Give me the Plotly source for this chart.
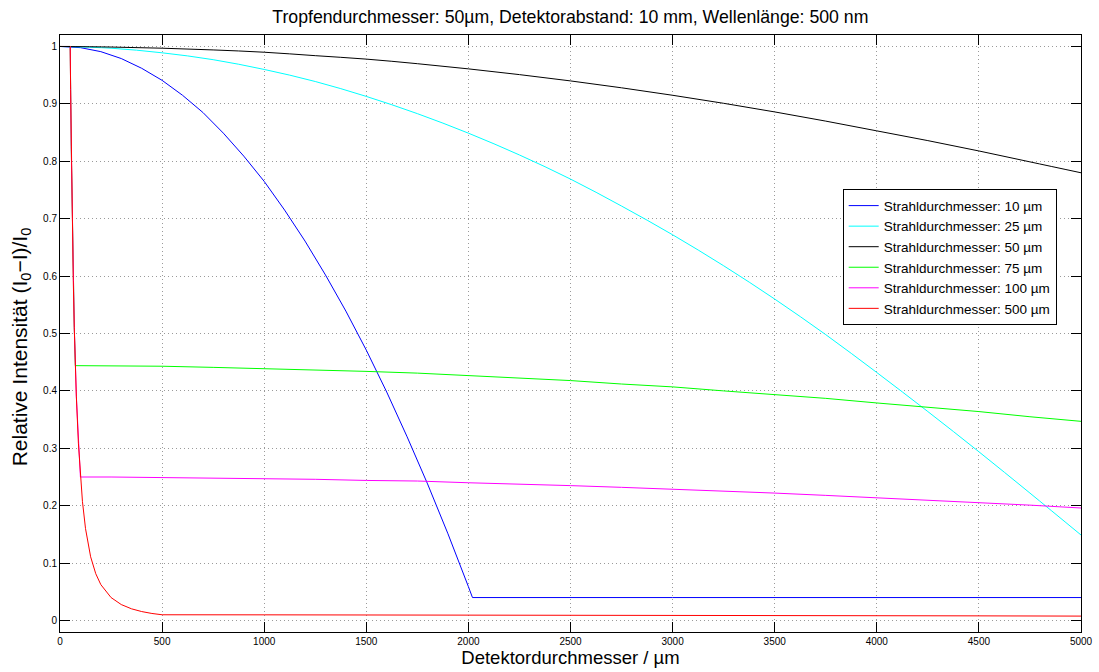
import plotly.graph_objects as go

# ---------------- data ----------------
x_blue = [0, 100, 200, 300, 400, 500, 600, 700, 800, 900, 1000, 1100, 1200, 1300,
          1400, 1500, 1600, 1700, 1800, 1900, 2000, 2020, 3000, 4000, 5000]
y_blue = [1.000, 0.998, 0.991, 0.979, 0.962, 0.941, 0.915, 0.885, 0.849, 0.809,
          0.765, 0.715, 0.661, 0.602, 0.539, 0.471, 0.398, 0.320, 0.238, 0.151,
          0.059, 0.040, 0.040, 0.040, 0.040]

x_grid = [250, 500, 750, 1000, 1250, 1500, 1750, 2000, 2250, 2500, 2750, 3000,
          3250, 3500, 3750, 4000, 4250, 4500, 4750, 5000]

x_cyan = [0] + x_grid
y_cyan = [1.000, 0.997, 0.989, 0.977, 0.960, 0.939, 0.913, 0.883, 0.849, 0.811,
          0.769, 0.722, 0.672, 0.618, 0.560, 0.498, 0.432, 0.364, 0.294, 0.222, 0.149]

x_black = [0] + x_grid
y_black = [1.000, 0.999, 0.997, 0.994, 0.990, 0.984, 0.978, 0.970, 0.961, 0.951,
           0.940, 0.928, 0.915, 0.901, 0.886, 0.870, 0.853, 0.836, 0.818, 0.799, 0.780]

x_green = [0, 50, 55, 60, 65, 70, 75] + x_grid
y_green = [1.000, 1.000, 0.826, 0.694, 0.592, 0.510, 0.444,
           0.444, 0.443, 0.441, 0.439, 0.437, 0.434, 0.431, 0.427, 0.422, 0.418,
           0.412, 0.407, 0.400, 0.394, 0.387, 0.379, 0.372, 0.364, 0.355, 0.347]

x_magenta = [0, 50, 55, 60, 65, 70, 80, 90, 100] + x_grid
y_magenta = [1.000, 1.000, 0.826, 0.694, 0.592, 0.510, 0.391, 0.309, 0.250,
             0.250, 0.249, 0.249, 0.247, 0.246, 0.244, 0.243, 0.240, 0.238, 0.235,
             0.232, 0.229, 0.226, 0.222, 0.218, 0.214, 0.210, 0.205, 0.201, 0.196]

x_red = [0, 50, 52, 55, 60, 65, 70, 75, 80, 90, 100, 110, 125, 150, 175, 200, 250,
         300, 350, 400, 450, 500, 1000, 1500, 2000, 2500, 3000, 3500, 4000, 4500, 5000]
y_red = [1.000, 1.000, 0.925, 0.826, 0.694, 0.592, 0.510, 0.444, 0.391, 0.309,
         0.250, 0.207, 0.160, 0.111, 0.0816, 0.0625, 0.0400, 0.0278, 0.0204, 0.0156,
         0.0123, 0.0100, 0.0099, 0.0098, 0.0096, 0.0094, 0.0091, 0.0088, 0.0085,
         0.0081, 0.0077]

series = [
    ("Strahldurchmesser: 10 µm", x_blue, y_blue, "#0000FF", "linear"),
    ("Strahldurchmesser: 25 µm", x_cyan, y_cyan, "#00FFFF", "spline"),
    ("Strahldurchmesser: 50 µm", x_black, y_black, "#000000", "spline"),
    ("Strahldurchmesser: 75 µm", x_green, y_green, "#00FF00", "linear"),
    ("Strahldurchmesser: 100 µm", x_magenta, y_magenta, "#FF00FF", "linear"),
    ("Strahldurchmesser: 500 µm", x_red, y_red, "#FF0000", "linear"),
]

x_ticks = [0, 500, 1000, 1500, 2000, 2500, 3000, 3500, 4000, 4500, 5000]
y_ticks = [0, 0.1, 0.2, 0.3, 0.4, 0.5, 0.6, 0.7, 0.8, 0.9, 1]
y_ticklabels = ["0", "0.1", "0.2", "0.3", "0.4", "0.5", "0.6", "0.7", "0.8", "0.9", "1"]

FONT = "Liberation Sans, Arial, Helvetica, sans-serif"

fig = go.Figure()
for name, xs, ys, col, shape in series:
    fig.add_trace(go.Scatter(x=xs, y=ys, mode="lines", name=name,
                             line=dict(color=col, width=1, shape=shape)))

axis_common = dict(
    showline=True, linecolor="black", linewidth=1, mirror="ticks",
    ticks="inside", ticklen=10, tickwidth=1, tickcolor="black",
    showgrid=True, gridcolor="#9a9a9a", griddash="1px,3px", gridwidth=1,
    zeroline=False, tickfont=dict(family=FONT, size=10, color="black"),
)

fig.update_layout(
    width=1099, height=672,
    margin=dict(l=60, r=18, t=35, b=40),
    paper_bgcolor="white", plot_bgcolor="white",
    font=dict(family=FONT, color="black"),
    title=dict(text="Tropfendurchmesser: 50µm, Detektorabstand: 10 mm, Wellenlänge: 500 nm",
               x=0.519, xanchor="center", y=1 - 17 / 672, yanchor="middle",
               font=dict(family=FONT, size=17.7, color="black")),
    xaxis=dict(range=[0, 5000], tickvals=x_ticks, tickformat="d",
               title=dict(text="Detektordurchmesser / µm", standoff=1,
                          font=dict(family=FONT, size=18.5, color="black")),
               automargin=False, **axis_common),
    yaxis=dict(range=[-0.02, 1.02], tickvals=y_ticks, ticktext=y_ticklabels,
               automargin=False, **axis_common),
    legend=dict(x=0.7666, y=0.7415, xanchor="left", yanchor="top",
                bgcolor="white", bordercolor="black", borderwidth=1,
                font=dict(family=FONT, size=13.5, color="black"),
                itemwidth=30, tracegroupgap=0),
    showlegend=True,
    annotations=[dict(
        text="Relative Intensität (I<sub>0</sub>−I)/I<sub>0</sub>",
        xref="paper", yref="paper", x=(20 - 59.5) / 1022, y=(631.7 - 346.5) / 597,
        xanchor="center", yanchor="middle", textangle=-90, showarrow=False,
        font=dict(family=FONT, size=21, color="black"),
    )],
)

fig.write_html("out.html")
